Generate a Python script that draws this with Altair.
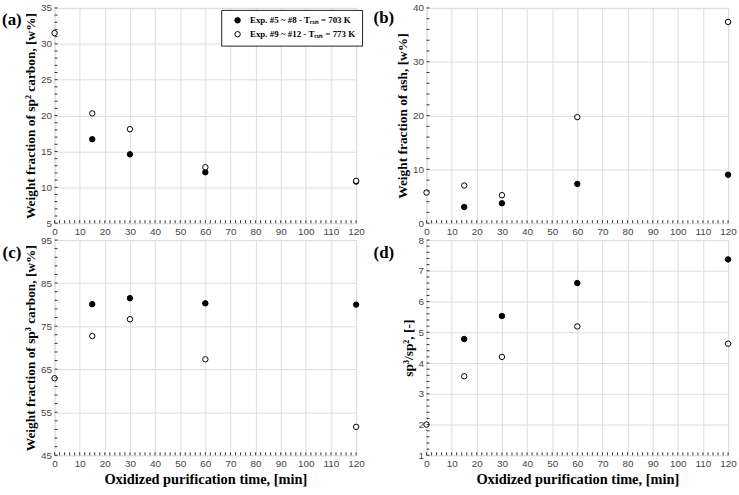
import altair as alt
import pandas as pd

# ---- data ----
time_703 = [15, 30, 60, 120]
time_773 = [0, 15, 30, 60, 120]
series_names = ["Exp. #5 ~ #8 - Tᵣₓₙ = 703 K", "Exp. #9 ~ #12 - Tᵣₓₙ = 773 K"]

sp2_703 = [16.7, 14.6, 12.1, 10.8]
sp2_773 = [31.5, 20.3, 18.1, 12.8, 10.9]
ash_703 = [3.0, 3.7, 7.3, 9.0]
ash_773 = [5.7, 7.0, 5.2, 19.7, 37.4]
sp3_703 = [80.1, 81.5, 80.3, 80.0]
sp3_773 = [62.9, 72.7, 76.6, 67.3, 51.6]
ratio_703 = [4.78, 5.53, 6.60, 7.37]
ratio_773 = [2.00, 3.57, 4.20, 5.19, 4.63]

x_major = list(range(0, 121, 10))
x_minor = list(range(0, 121, 2))

SERIF = "Liberation Serif"
SANS = "Liberation Sans"
W, H = 304, 217
TICK = 3


def make_df(v703, v773):
    rows = [{"time": t, "value": v, "series": series_names[0]} for t, v in zip(time_703, v703)]
    rows += [{"time": t, "value": v, "series": series_names[1]} for t, v in zip(time_773, v773)]
    return pd.DataFrame(rows)


def panel(v703, v773, ytitle, ydom, ymajor, yminor, label, lx, ly, legx, legy, xtitle):
    df = make_df(v703, v773)
    xs = alt.Scale(domain=[0, 120], nice=False, zero=False)
    ys = alt.Scale(domain=ydom, nice=False, zero=False)
    axis_common = dict(grid=True, ticks=False, domain=False, labelPadding=3,
                       labelFont=SANS, labelFontSize=10, labelColor="#444",
                       titleFont=SERIF, titleFontWeight="bold",
                       titleColor="black", labelFlush=False, labelOverlap=False)
    x_axis = alt.Axis(values=x_major, title=xtitle if xtitle else None,
                      titlePadding=4, titleFontSize=14.5, **axis_common)
    y_axis = alt.Axis(values=ymajor, title=ytitle, titlePadding=3,
                      titleFontSize=13.5, **axis_common)
    pts = alt.Chart(df).mark_point(filled=True, size=30, stroke="black", strokeWidth=1,
                                   opacity=1).encode(
        x=alt.X("time:Q", scale=xs, axis=x_axis),
        y=alt.Y("value:Q", scale=ys, axis=y_axis),
        fill=alt.Fill("series:N",
                      scale=alt.Scale(domain=series_names, range=["black", "white"]),
                      legend=alt.Legend(orient="none", legendX=legx, legendY=legy, title=None,
                                        direction="vertical", strokeColor="#222",
                                        fillColor="white", padding=6, symbolOffset=6,
                                        labelOffset=8, rowPadding=3,
                                        symbolType="circle", symbolSize=30,
                                        symbolStrokeColor="black", symbolStrokeWidth=1,
                                        labelFont=SERIF, labelFontWeight="bold",
                                        labelFontSize=9, labelColor="black", labelLimit=300)),
    )
    xt = alt.Chart(pd.DataFrame({"t": x_minor})).mark_rule(color="#333", strokeWidth=1).encode(
        x=alt.X("t:Q", scale=xs, axis=x_axis), y=alt.value(H), y2=alt.value(H - TICK))
    yt = alt.Chart(pd.DataFrame({"v": yminor})).mark_rule(color="#333", strokeWidth=1).encode(
        y=alt.Y("v:Q", scale=ys, axis=y_axis), x=alt.value(0), x2=alt.value(TICK))
    lab = alt.Chart(pd.DataFrame({"label": [label]})).mark_text(
        font=SERIF, fontWeight="bold", fontSize=17, align="center", baseline="middle",
        color="black").encode(text="label:N", x=alt.value(lx), y=alt.value(ly))
    return alt.layer(pts, xt, yt, lab).properties(width=W, height=H)


def frange(a, b, s):
    out = []
    v = a
    while v <= b + 1e-9:
        out.append(round(v, 4))
        v += s
    return out


pa = panel(sp2_703, sp2_773, "Weight fraction of sp² carbon, [w%]", [5, 35],
           list(range(5, 36, 5)), list(range(5, 36, 1)), "(a)", -43, 12, 168, 2, None)
pb = panel(ash_703, ash_773, "Weight fraction of ash, [w%]", [0, 40],
           list(range(0, 41, 10)), list(range(0, 41, 2)), "(b)", -43, 10, 6, 7, None)
pc = panel(sp3_703, sp3_773, "Weight fraction of sp³ carbon, [w%]", [45, 95],
           list(range(45, 96, 10)), list(range(45, 96, 2)), "(c)", -43, 13, 168, 4,
           "Oxidized purification time, [min]")
pd_ = panel(ratio_703, ratio_773, "sp³/sp², [-]", [1, 8],
            list(range(1, 9)), frange(1, 8, 0.2), "(d)", -43, 13, 4, 5,
            "Oxidized purification time, [min]")

chart = alt.concat(pa, pb, pc, pd_, columns=2,
                   spacing=alt.RowColnumber(row=17, column=71), bounds="flush").properties(
    padding={"left": 1, "top": 0, "right": 2, "bottom": 2}
).configure_view(stroke="#222", strokeWidth=1).configure_axis(
    gridColor="#c4c4c4", gridWidth=1
).configure(background="white")

chart.save("out.html", embed_options={"renderer": "svg", "actions": False})
